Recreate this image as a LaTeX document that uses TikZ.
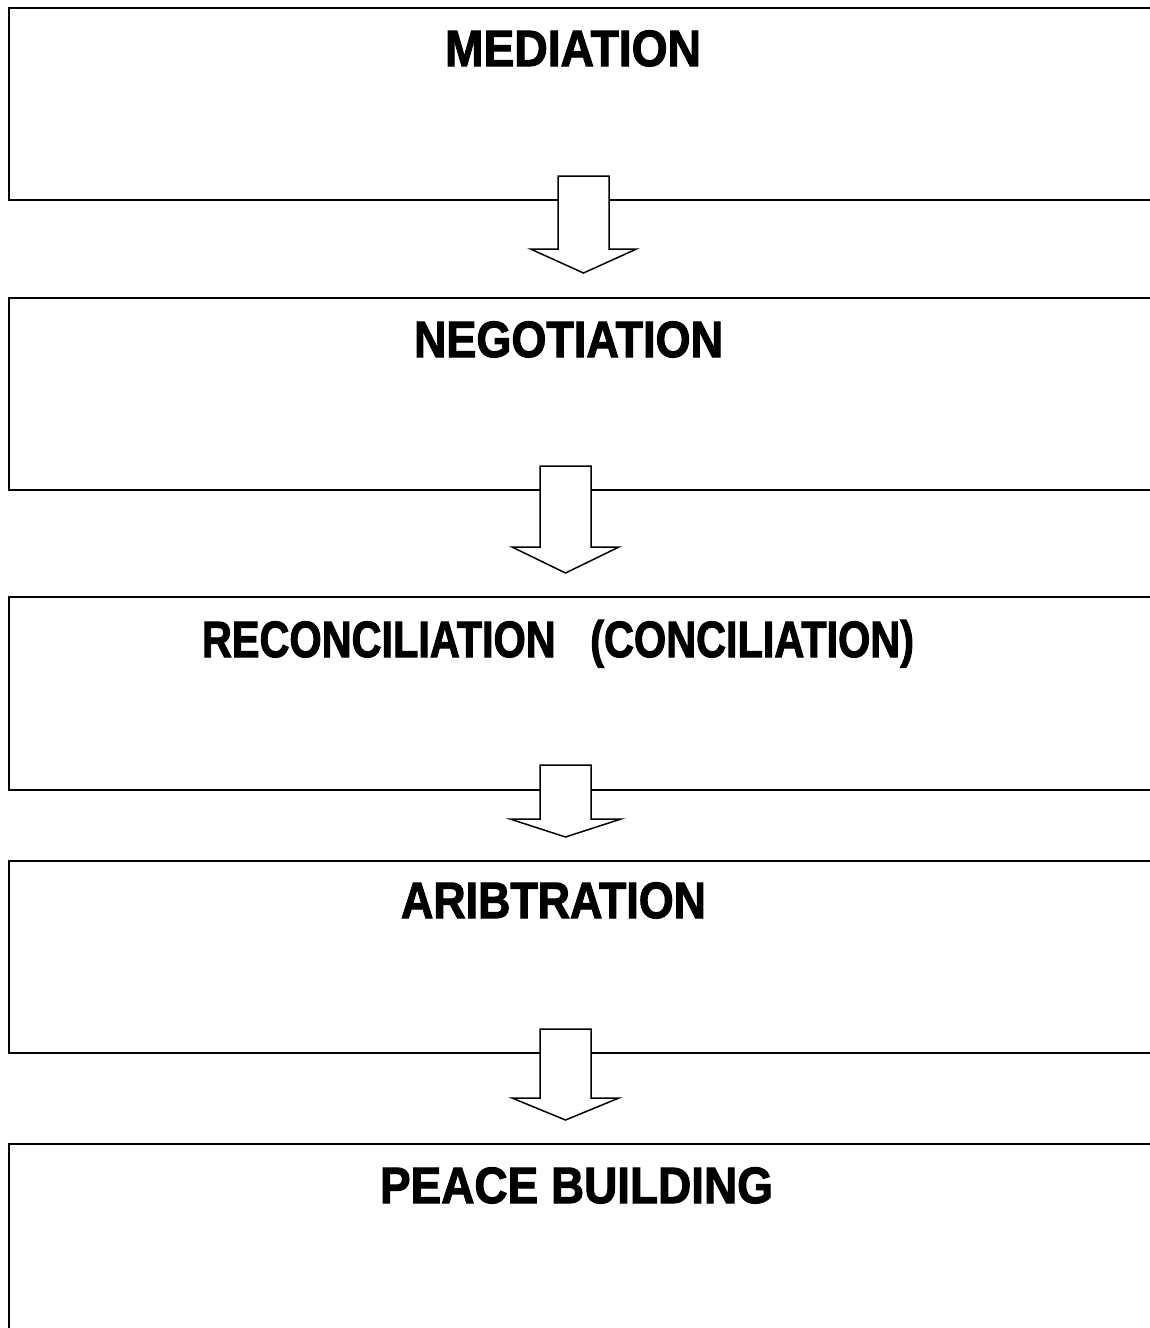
\documentclass[tikz,border=0pt]{standalone}
\usepackage{fontspec}
\setmainfont{Liberation Sans}[BoldFeatures={FakeBold=2.2}]
\usepackage{graphicx}
\newcommand{\fitw}[2]{\resizebox{#1}{\height}{#2}}
\newcommand{\hollowarrow}[7]{% name, cx, top, headstart, tip, half shaft, half wing
  \draw[fatarrow] ({#2-#6},#3) -- ({#2+#6},#3) -- ({#2+#6},#4) -- ({#2+#7},#4)
    -- (#2,#5) coordinate (#1) -- ({#2-#7},#4) -- ({#2-#6},#4) -- cycle;}
\tikzset{
  stagebox/.style={draw=black, line width=2pt, minimum width=1160pt, anchor=north west, inner sep=0pt},
  stagelabel/.style={font=\fontsize{51}{52}\selectfont\bfseries, anchor=base, inner sep=0pt},
  fatarrow/.style={draw=black, line width=1.5pt, fill=white, line join=miter},
}
\begin{document}
\begin{tikzpicture}[x=1pt,y=-1pt]
\useasboundingbox (0,0) rectangle (1150,1328);
\fill[white] (0,0) rectangle (1150,1328);
% boxes
\node[stagebox, minimum height=192pt] (b1) at (8,7) {};
\node[stagebox, minimum height=192pt] (b2) at (8,297) {};
\node[stagebox, minimum height=193pt] (b3) at (8,596) {};
\node[stagebox, minimum height=192pt] (b4) at (8,860) {};
\node[stagebox, minimum height=210pt] (b5) at (8,1143) {};
% labels
\node[stagelabel] (t1) at (573,66) {\fitw{256pt}{MEDIATION}};
\node[stagelabel] (t2) at (568.5,357) {\fitw{309pt}{NEGOTIATION}};
\node[stagelabel] (t3) at (558,657) {\fitw{712pt}{RECONCILIATION\ \ \ (CONCILIATION)}};
\node[stagelabel] (t4) at (553.5,918) {\fitw{305pt}{ARIBTRATION}};
\node[stagelabel] (t5) at (576.5,1203) {\fitw{393pt}{PEACE BUILDING}};
% arrows
\hollowarrow{a1}{583.5}{176}{249}{273}{25.5}{53}
\hollowarrow{a2}{565.5}{466}{547}{573}{25.5}{53.5}
\hollowarrow{a3}{565.5}{765}{819}{837}{25.5}{55.5}
\hollowarrow{a4}{565.5}{1029}{1098}{1120}{25.5}{53.5}
\end{tikzpicture}
\end{document}
